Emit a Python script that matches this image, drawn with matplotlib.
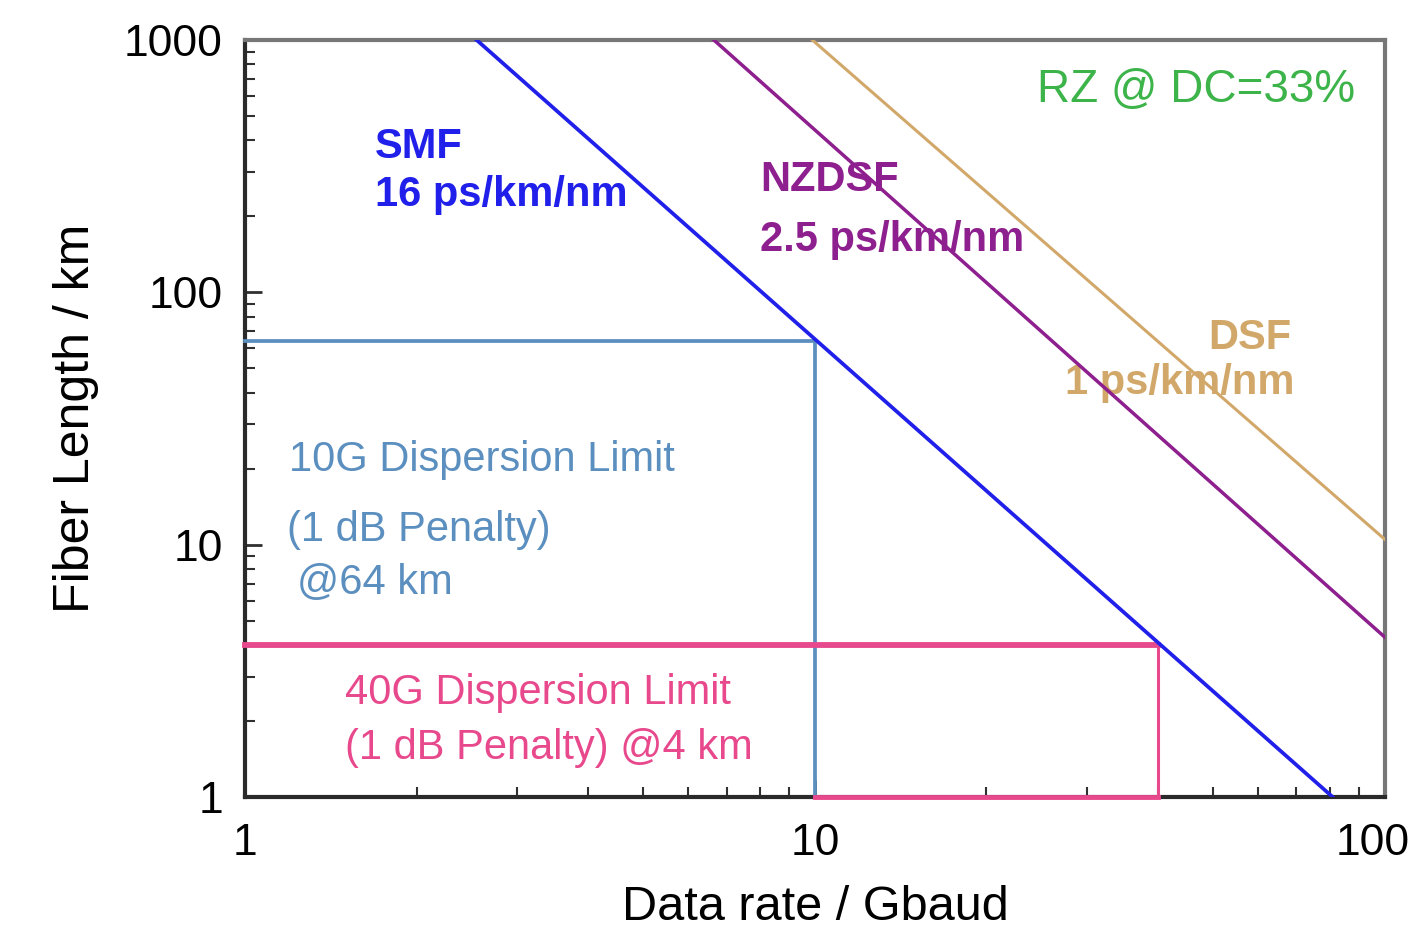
import matplotlib
matplotlib.use("Agg")
import matplotlib.pyplot as plt
from matplotlib.ticker import LogLocator, FixedLocator, NullFormatter
from matplotlib.transforms import ScaledTranslation

plt.rcParams['font.family'] = ['Liberation Sans', 'DejaVu Sans']

# Data (end points of straight lines in log-log space)
smf_rate = [2.55, 81.0]
smf_len = [1000, 1]
nzdsf_rate = [6.65, 100.0]
nzdsf_len = [1000, 4.3]
dsf_rate = [9.9, 100.0]
dsf_len = [1000, 10.5]

limit10_rate = 10
limit10_len = 64
limit40_rate = 40
limit40_len = 4

x_ticks = [1, 10, 100]
x_ticklabels = ['1', '10', '100']
y_ticks = [1, 10, 100, 1000]
y_ticklabels = ['1', '10', '100', '1000']

fig = plt.figure(figsize=(14.13, 9.31), dpi=100)
ax = fig.add_axes([0.1734, 0.144, 0.8066, 0.813])
ax.set_xscale('log')
ax.set_yscale('log')
ax.set_xlim(1, 100)
ax.set_ylim(1, 1000)

blue = '#2020ea'
purple = '#8e1f8e'
tan = '#d2a86a'
steel = '#5b8fbf'
pink = '#e8488c'
green = '#3cb44a'

ax.plot(smf_rate, smf_len, color=blue, lw=2.7, zorder=4)
ax.plot(nzdsf_rate, nzdsf_len, color=purple, lw=2.5, zorder=4)
ax.plot(dsf_rate, dsf_len, color=tan, lw=2.2, zorder=4)

# 10G box
ax.plot([1, limit10_rate, limit10_rate], [limit10_len, limit10_len, 1],
        color=steel, lw=2.7, zorder=3, clip_on=False)
# 40G box
ax.plot([1, limit40_rate], [limit40_len, limit40_len], color=pink, lw=4.2, zorder=3, clip_on=False)
ax.plot([limit40_rate, limit40_rate], [limit40_len, 1], color=pink, lw=2.2, zorder=3, clip_on=False)
ax.plot([limit10_rate, limit40_rate], [1, 1], color=pink, lw=3.5, zorder=3, clip_on=False)

T = ax.transAxes
bold = dict(fontsize=30, fontweight='bold', va='center')
ax.text(0.114, 0.859, 'SMF', color=blue, ha='left', transform=T, **bold)
ax.text(0.114, 0.795, '16 ps/km/nm', color=blue, ha='left', transform=T, **bold)
ax.text(0.452, 0.815, 'NZDSF', color=purple, ha='left', transform=T, **bold)
ax.text(0.452, 0.736, '2.5 ps/km/nm', color=purple, ha='left', transform=T, **bold)
ax.text(0.918, 0.606, 'DSF', color=tan, ha='right', transform=T, **bold)
ax.text(0.921, 0.547, '1 ps/km/nm', color=tan, ha='right', transform=T, **bold)
ax.text(0.974, 0.934, 'RZ @ DC=33%', color=green, fontsize=33, ha='right', va='center',
        transform=T)

reg = dict(fontsize=30, va='center', ha='left', transform=T)
ax.text(0.039, 0.445, '10G Dispersion Limit', color=steel, **reg)
ax.text(0.037, 0.353, '(1 dB Penalty)', color=steel, **reg)
ax.text(0.046, 0.283, '@64 km', color=steel, **reg)
ax.text(0.088, 0.137, '40G Dispersion Limit', color=pink, **reg)
ax.text(0.088, 0.065, '(1 dB Penalty) @4 km', color=pink, **reg)

# Axes styling
ax.xaxis.set_major_locator(FixedLocator(x_ticks))
ax.yaxis.set_major_locator(FixedLocator(y_ticks))
ax.set_xticklabels(x_ticklabels)
ax.set_yticklabels(y_ticklabels)
ax.xaxis.set_minor_locator(LogLocator(base=10, subs=range(2, 10)))
ax.yaxis.set_minor_locator(LogLocator(base=10, subs=range(2, 10)))
ax.xaxis.set_minor_formatter(NullFormatter())
ax.yaxis.set_minor_formatter(NullFormatter())
ax.tick_params(which='major', direction='in', length=12, width=2, labelsize=32,
               color='#303030')
ax.tick_params(which='minor', direction='in', length=7, width=1.5, color='#303030')
ax.tick_params(axis='x', pad=19)
ax.tick_params(axis='y', pad=16)

# nudge the last x tick label left so it stays inside the figure
lbls = ax.get_xticklabels()
lbls[-1].set_transform(lbls[-1].get_transform() + ScaledTranslation(-0.12, 0, fig.dpi_scale_trans))

for s in ['top', 'right']:
    ax.spines[s].set_color('#777777')
    ax.spines[s].set_linewidth(3)
for s in ['left', 'bottom']:
    ax.spines[s].set_color('#2a2a2a')
    ax.spines[s].set_linewidth(3)

ax.set_xlabel('Data rate / Gbaud', fontsize=35, labelpad=15)
ax.set_ylabel('Fiber Length / km', fontsize=36, labelpad=18)

fig.savefig('out.png', dpi=100)
